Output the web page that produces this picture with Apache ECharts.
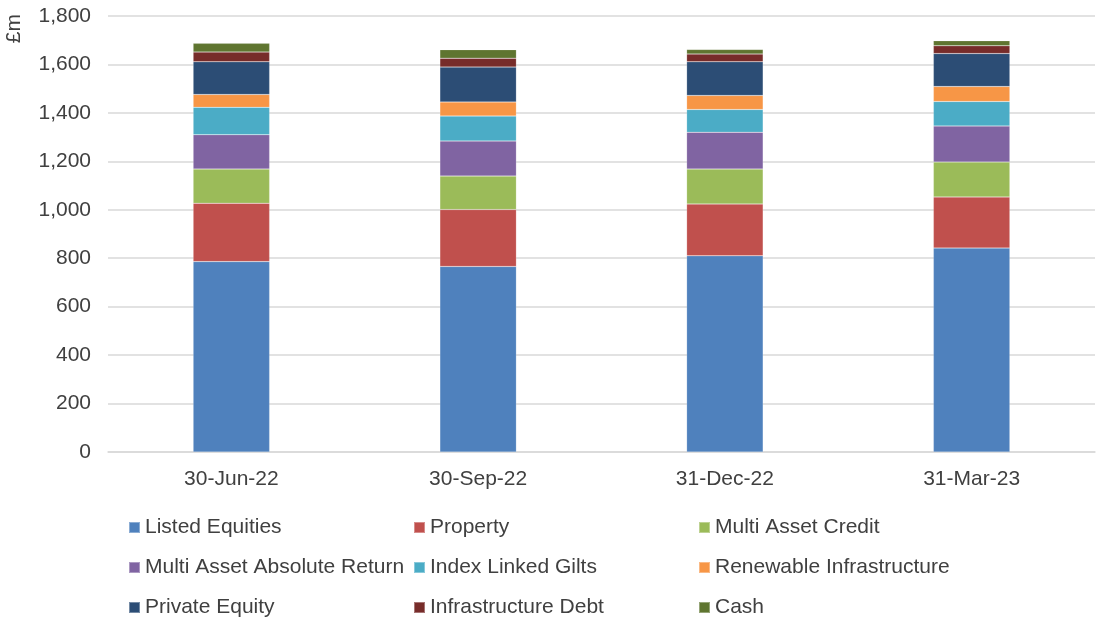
<!DOCTYPE html>
<html><head><meta charset="utf-8">
<script src="https://cdn.jsdelivr.net/npm/echarts@6/dist/echarts.min.js"></script>
<style>html,body{margin:0;padding:0;background:#fff}#c{width:1097px;height:619px}</style>
</head><body><div id="c"></div>
<script>
const categories = ['30-Jun-22','30-Sep-22','31-Dec-22','31-Mar-23'];
const listedEquities = [786, 766, 810, 842];
const property = [241, 235, 214, 211];
const multiAssetCredit = [141, 138, 144, 144];
const multiAssetAbsoluteReturn = [142, 145, 152, 149];
const indexLinkedGilts = [113, 103, 94, 101];
const renewableInfrastructure = [53, 58, 58, 62];
const privateEquity = [135, 144, 139, 136];
const infrastructureDebt = [40, 37, 32, 32];
const cash = [36, 35, 19, 21];
const yTicks = [0, 200, 400, 600, 800, 1000, 1200, 1400, 1600, 1800];

const seriesDefs = [
  ['Listed Equities', listedEquities, '#4F81BD'],
  ['Property', property, '#C0504D'],
  ['Multi Asset Credit', multiAssetCredit, '#9BBB59'],
  ['Multi Asset Absolute Return', multiAssetAbsoluteReturn, '#8064A2'],
  ['Index Linked Gilts', indexLinkedGilts, '#4BACC6'],
  ['Renewable Infrastructure', renewableInfrastructure, '#F79646'],
  ['Private Equity', privateEquity, '#2C4D75'],
  ['Infrastructure Debt', infrastructureDebt, '#772C2A'],
  ['Cash', cash, '#5F7530']
];
const font = 'Liberation Sans, Arial, sans-serif';
const txt = '#404040';
const fs = 21;
const legendBase = {
  orient: 'vertical', itemWidth: 11, itemHeight: 11, itemGap: 19,
  icon: 'rect', top: 517, padding: 0, height: 102,
  textStyle: {fontFamily: font, fontSize: fs, lineHeight: 21, color: txt}
};
const chart = echarts.init(document.getElementById('c'));
chart.setOption({
  animation: false,
  grid: {left: 108, right: 2, top: 16, bottom: 167},
  legend: [
    Object.assign({}, legendBase, {left: 128, data: [seriesDefs[0][0], seriesDefs[3][0], seriesDefs[6][0]]}),
    Object.assign({}, legendBase, {left: 413, data: [seriesDefs[1][0], seriesDefs[4][0], seriesDefs[7][0]]}),
    Object.assign({}, legendBase, {left: 698, data: [seriesDefs[2][0], seriesDefs[5][0], seriesDefs[8][0]]})
  ],
  graphic: [{
    type: 'text', left: 4, top: 14, rotation: Math.PI/2,
    style: {text: '£m', font: fs + 'px ' + font, fill: txt}
  }],
  xAxis: {
    type: 'category', data: categories,
    axisLine: {lineStyle: {color: '#D9D9D9', width: 1.5}},
    axisTick: {show: false},
    axisLabel: {fontFamily: font, fontSize: fs, color: txt, margin: 17}
  },
  yAxis: {
    type: 'value', min: yTicks[0], max: yTicks[yTicks.length-1], interval: 200,
    axisLine: {show: false}, axisTick: {show: false},
    splitLine: {lineStyle: {color: '#D9D9D9', width: 1.5}},
    axisLabel: {fontFamily: font, fontSize: fs, color: txt, margin: 17,
      formatter: v => v.toLocaleString('en-GB')}
  },
  series: seriesDefs.map(([name, data, color]) => ({
    name, type: 'bar', stack: 'total', data, barWidth: '31%',
    itemStyle: {color, borderColor: 'rgba(255,255,255,0.35)', borderWidth: 0.5}
  }))
});
</script></body></html>
